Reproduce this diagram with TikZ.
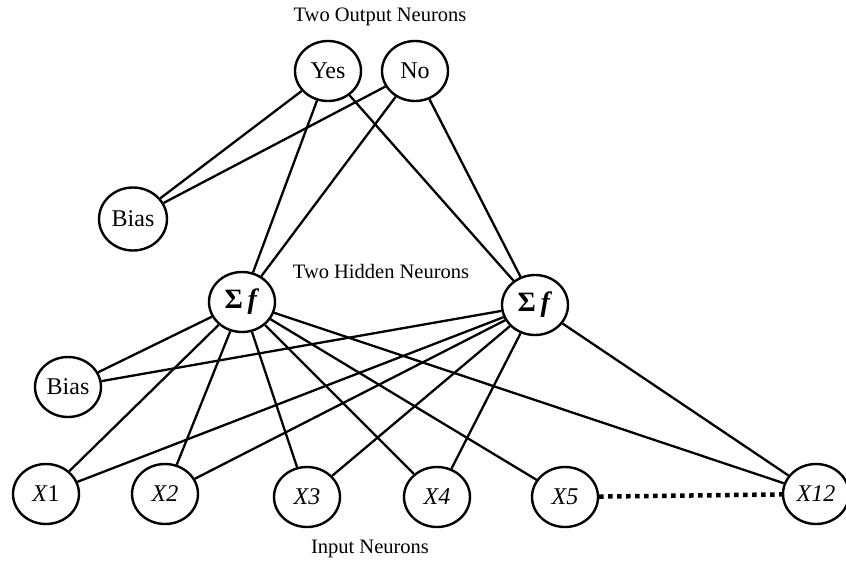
\documentclass[tikz,border=0pt]{standalone}
\usepackage{fontspec}
\setmainfont{Liberation Serif}
\usetikzlibrary{shapes.geometric}
\begin{document}
\begin{tikzpicture}[x=1pt,y=-1pt,
  neuron/.style={draw,ellipse,line width=2.4pt,minimum width=66pt,minimum height=60pt,inner sep=0pt,font=\fontsize{24}{28}\selectfont},
  sumf/.style={font=\fontsize{28}{32}\selectfont},
  lbl/.style={font=\fontsize{20.5}{24}\selectfont},
  conn/.style={line width=2.3pt}]
\useasboundingbox (0,0) rectangle (846,560);
\node[lbl] (tout) at (380,17) {Two Output Neurons};
\node[lbl] (thid) at (381,271) {Two Hidden Neurons};
\node[lbl] (tin) at (370,549) {Input Neurons};
\node[neuron] (yes) at (328,71) {Yes};
\node[neuron] (no) at (415,71) {No};
\node[neuron,minimum width=68pt,minimum height=63pt] (b1) at (133,219) {Bias};
\node[neuron,sumf] (h1) at (242,302) {\textbf{Σ}\,\textbf{\textit{f}}};
\node[neuron,sumf] (h2) at (535,305) {\textbf{Σ}\,\textbf{\textit{f}}};
\node[neuron] (b2) at (68,387) {Bias};
\node[neuron] (x1) at (46,494) {\textit{X}1};
\node[neuron] (x2) at (165,494) {\textit{X2}};
\node[neuron] (x3) at (307,497) {\textit{X3}};
\node[neuron] (x4) at (437,497) {\textit{X4}};
\node[neuron] (x5) at (565,497) {\textit{X5}};
\node[neuron] (x12) at (816,494) {\textit{X12}};
\foreach \a/\b in {yes/b1,no/b1,yes/h1,no/h1,yes/h2,no/h2,
  h1/b2,h1/x1,h1/x2,h1/x3,h1/x4,h1/x5,h1/x12,
  h2/b2,h2/x1,h2/x2,h2/x3,h2/x4,h2/x12}
  \draw[conn] (\a) -- (\b);
\draw[line width=4.5pt,dash pattern=on 4.5pt off 4.5pt] (x5) -- (x12);
\end{tikzpicture}
\end{document}
